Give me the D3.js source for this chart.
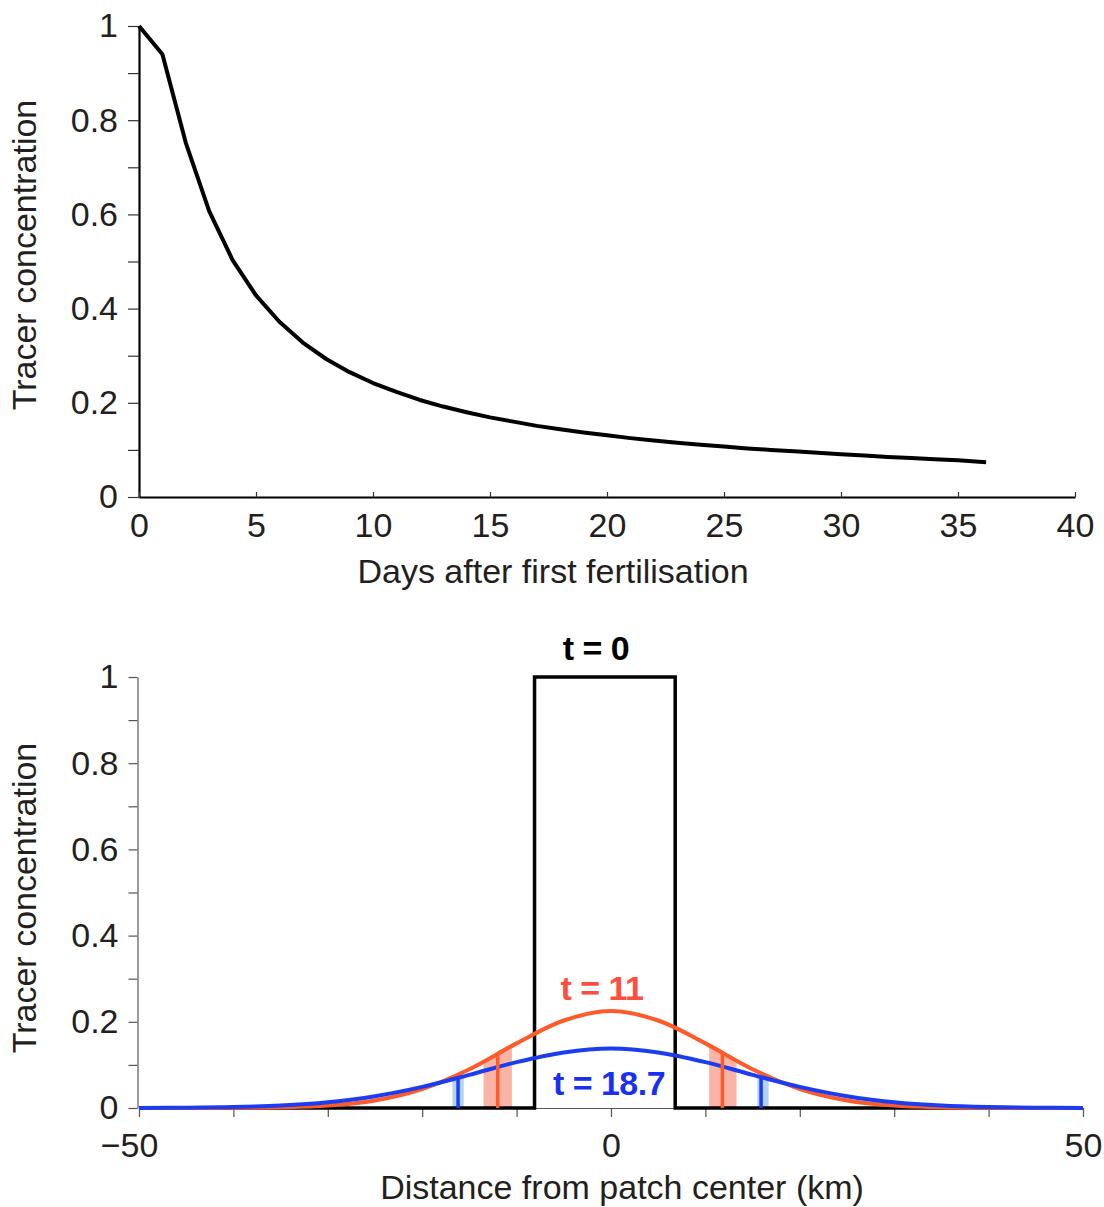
<!DOCTYPE html>
<html>
<head>
<meta charset="utf-8">
<script src="https://cdn.jsdelivr.net/npm/d3@7"></script>
<style>
body { margin: 0; background: #fff; }
text { font-family: "Liberation Sans", Arial, Helvetica, sans-serif; fill: #231f20; }
</style>
</head>
<body>
<div id="chart"></div>
<script>
var svgWidth = 1104;
var svgHeight = 1207;
var fontSize = 34;

// ---- top panel: mean tracer concentration vs days
var days = [0,1,2,3,4,5,6,7,8,9,10,11,12,13,14,15,16,17,18,19,20,21,22,23,24,25,26,27,28,29,30,31,32,33,34,35,36.2];
var meanConc = [1.0,0.94,0.752,0.607,0.503,0.428,0.372,0.328,0.293,0.265,0.242,0.223,0.206,0.192,0.18,0.169,0.16,0.151,0.144,0.137,0.131,0.125,0.12,0.115,0.111,0.107,0.103,0.1,0.097,0.094,0.091,0.088,0.085,0.083,0.08,0.078,0.074];
var topXTicks = [0,5,10,15,20,25,30,35,40];
var yTicks = [0,0.2,0.4,0.6,0.8,1];
var yMinorTicks = [0.1,0.3,0.5,0.7,0.9];

// ---- bottom panel: cross-patch profiles
var rectX = [-50,-8.1,-8.1,6.8,6.8,50];
var rectY = [0,0,1,1,0,0];
var distKm = [-50,-45,-40,-35,-30,-25,-20,-15,-10,-5,0,5,10,15,20,25,30,35,40,45,50];
var concT11 = [0,0.0001,0.0003,0.0015,0.0057,0.0176,0.044,0.09,0.15,0.203,0.225,0.203,0.15,0.09,0.044,0.0176,0.0057,0.0015,0.0003,0.0001,0];
var concT187 = [0.0002,0.0007,0.0022,0.0058,0.0134,0.0273,0.049,0.077,0.1065,0.129,0.138,0.129,0.1065,0.077,0.049,0.0273,0.0134,0.0058,0.0022,0.0007,0.0002];
var markT11 = [-12, 11.8];
var markT11Val = [0.125, 0.127];
var bandT11 = [[-13.5,-10.5],[10.4,13.3]];
var markT187 = [-16.2, 15.9];
var markT187Val = [0.071, 0.073];
var bandT187 = [[-16.8,-15.6],[15.5,16.7]];
var bottomXTicks = [-50,-40,-30,-20,-10,0,10,20,30,40,50];
var bottomXLabels = {"-50": "\u221250", "0": "0", "50": "50"};

var red = "#ff5a2a";
var blue = "#1c3cf2";

var svg = d3.select("#chart").append("svg")
    .attr("width", svgWidth)
    .attr("height", svgHeight);

// ================= top panel =================
var xTop = d3.scaleLinear().domain([0,40]).range([139,1075]);
var yTop = d3.scaleLinear().domain([0,1]).range([497,26]);

var topG = svg.append("g");

topG.append("g")
    .attr("transform", "translate(139,0)")
    .call(d3.axisLeft(yTop).tickValues(yTicks).tickSize(11).tickSizeOuter(0).tickPadding(10).tickFormat(d3.format("")));
topG.append("g")
    .attr("transform", "translate(139,0)")
    .call(d3.axisLeft(yTop).tickValues(yMinorTicks).tickSize(11).tickSizeOuter(0).tickFormat(""))
    .select(".domain").remove();

topG.append("g")
    .attr("transform", "translate(0,497)")
    .call(d3.axisBottom(xTop).tickValues(topXTicks).tickSizeInner(-5).tickSizeOuter(0).tickPadding(16));

topG.selectAll(".domain").attr("stroke", "#000").attr("stroke-width", 2.2);
topG.selectAll(".tick line").attr("stroke", "#333").attr("stroke-width", 1.2);
topG.selectAll(".tick text").attr("font-size", fontSize).attr("fill", "#231f20")
    .style("font-family", "'Liberation Sans', Arial, sans-serif");

var topLine = d3.line()
    .x((d, i) => xTop(days[i]))
    .y(d => yTop(d));

topG.append("path")
    .datum(meanConc)
    .attr("d", topLine)
    .attr("fill", "none")
    .attr("stroke", "#000")
    .attr("stroke-width", 4)
    .attr("stroke-linejoin", "round");

topG.append("text")
    .attr("transform", "translate(36,255) rotate(-90)")
    .attr("text-anchor", "middle")
    .attr("font-size", fontSize)
    .text("Tracer concentration");

topG.append("text")
    .attr("x", 553)
    .attr("y", 583)
    .attr("text-anchor", "middle")
    .attr("font-size", fontSize)
    .text("Days after first fertilisation");

// ================= bottom panel =================
var xBot = d3.scaleLinear().domain([-50,50]).range([139,1083]);
var yBot = d3.scaleLinear().domain([0,1]).range([1108,677]);

var botG = svg.append("g");

botG.append("g")
    .attr("transform", "translate(137.5,0)")
    .call(d3.axisLeft(yBot).tickValues(yTicks).tickSize(9).tickSizeOuter(0).tickPadding(10).tickFormat(d3.format("")));
botG.append("g")
    .attr("transform", "translate(137.5,0)")
    .call(d3.axisLeft(yBot).tickValues(yMinorTicks).tickSize(9).tickSizeOuter(0).tickFormat(""))
    .select(".domain").remove();
var botXAxis = botG.append("g")
    .attr("transform", "translate(0,1108)")
    .call(d3.axisBottom(xBot).tickValues(bottomXTicks).tickSize(9).tickSizeOuter(0).tickPadding(16)
        .tickFormat(d => bottomXLabels[String(d)] || ""));
// the minus sign hangs to the left of the tick
botXAxis.selectAll(".tick text").filter(d => d < 0).attr("dx", -10);

botG.selectAll(".domain").attr("stroke", "#555").attr("stroke-width", 1.2);
botG.selectAll(".tick line").attr("stroke", "#555").attr("stroke-width", 1.2);
botG.selectAll(".tick text").attr("font-size", fontSize).attr("fill", "#231f20")
    .style("font-family", "'Liberation Sans', Arial, sans-serif");

var curveLine = d3.line()
    .x((d, i) => xBot(distKm[i]))
    .y(d => yBot(d))
    .curve(d3.curveCatmullRom);
var curveArea = d3.area()
    .x((d, i) => xBot(distKm[i]))
    .y0(yBot(0))
    .y1(d => yBot(d))
    .curve(d3.curveCatmullRom);

// shaded bands under the curves
var defs = svg.append("defs");
function drawBands(bands, values, fill, id) {
    bands.forEach(function(b, j) {
        defs.append("clipPath").attr("id", id + j)
            .append("rect")
            .attr("x", xBot(b[0]))
            .attr("width", xBot(b[1]) - xBot(b[0]))
            .attr("y", 0)
            .attr("height", svgHeight);
        botG.append("path")
            .datum(values)
            .attr("d", curveArea)
            .attr("clip-path", "url(#" + id + j + ")")
            .attr("fill", fill);
    });
}
drawBands(bandT11, concT11, "#fbb3a6", "bandRed");
drawBands(bandT187, concT187, "#b3d3f6", "bandBlue");

// t = 0 top-hat
var rectLine = d3.line()
    .x((d, i) => xBot(rectX[i]))
    .y(d => yBot(d));
botG.append("path")
    .datum(rectY)
    .attr("d", rectLine)
    .attr("fill", "none")
    .attr("stroke", "#000")
    .attr("stroke-width", 3.5);

botG.append("path")
    .datum(concT11)
    .attr("d", curveLine)
    .attr("fill", "none")
    .attr("stroke", red)
    .attr("stroke-width", 4);

botG.append("path")
    .datum(concT187)
    .attr("d", curveLine)
    .attr("fill", "none")
    .attr("stroke", blue)
    .attr("stroke-width", 4);

// marker lines
botG.selectAll(".markRed")
    .data(markT11)
    .enter().append("line")
    .attr("x1", d => xBot(d)).attr("x2", d => xBot(d))
    .attr("y1", yBot(0))
    .attr("y2", (d, i) => yBot(markT11Val[i]))
    .attr("stroke", red)
    .attr("stroke-width", 3.5);
botG.selectAll(".markBlue")
    .data(markT187)
    .enter().append("line")
    .attr("x1", d => xBot(d)).attr("x2", d => xBot(d))
    .attr("y1", yBot(0))
    .attr("y2", (d, i) => yBot(markT187Val[i]))
    .attr("stroke", blue)
    .attr("stroke-width", 3.5);

// curve labels
botG.append("text")
    .attr("x", 596).attr("y", 660)
    .attr("text-anchor", "middle")
    .attr("font-size", 34).attr("font-weight", "bold")
    .attr("letter-spacing", -0.5)
    .style("fill", "#000")
    .text("t = 0");
botG.append("text")
    .attr("x", 602).attr("y", 1000)
    .attr("text-anchor", "middle")
    .attr("font-size", 34).attr("font-weight", "bold")
    .attr("letter-spacing", -0.5)
    .style("fill", "#ff4f3c")
    .text("t = 11");
botG.append("text")
    .attr("x", 609).attr("y", 1095)
    .attr("text-anchor", "middle")
    .attr("font-size", 34).attr("font-weight", "bold")
    .attr("letter-spacing", -0.5)
    .style("fill", "#1a30f0")
    .text("t = 18.7");

botG.append("text")
    .attr("transform", "translate(36,898) rotate(-90)")
    .attr("text-anchor", "middle")
    .attr("font-size", fontSize)
    .text("Tracer concentration");

botG.append("text")
    .attr("x", 622)
    .attr("y", 1199)
    .attr("text-anchor", "middle")
    .attr("font-size", fontSize)
    .text("Distance from patch center (km)");
</script>
</body>
</html>
